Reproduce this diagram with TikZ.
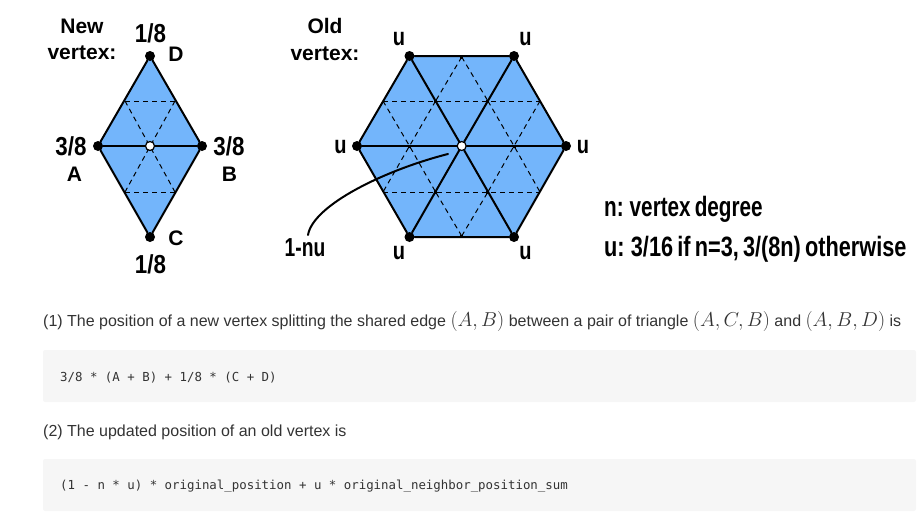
\documentclass[tikz,border=0pt]{standalone}
\usepackage{fontspec}
\setmainfont{Liberation Sans}
\newfontfamily\headfont{Liberation Sans Bold}
\newfontfamily\condfont[FakeStretch=0.86]{Liberation Sans Bold}
\newfontfamily\ufont[FakeStretch=0.8]{Liberation Sans Bold}
\newfontfamily\notefont[FakeStretch=0.74]{Liberation Sans Bold}
\newfontfamily\noteafont[FakeStretch=0.74,WordSpace=0.7]{Liberation Sans Bold}
\newfontfamily\notebfont[FakeStretch=0.775,WordSpace=0.7]{Liberation Sans Bold}
\newfontfamily\codefont{DejaVu Sans Mono}
\definecolor{meshblue}{HTML}{73B5FB}
\definecolor{codebg}{HTML}{F6F6F6}
\definecolor{bodytext}{HTML}{333333}
\tikzset{
  vtx/.style={circle,fill=black,inner sep=0pt,minimum size=10pt},
  newvtx/.style={circle,draw=black,line width=1.2pt,fill=white,inner sep=0pt,minimum size=9pt},
  edgeline/.style={line width=2pt,line cap=round},
  guide/.style={line width=1pt,dash pattern=on 5pt off 4pt},
  tick/.style={fill=black,inner sep=0pt,minimum size=3pt,rectangle},
  meshfill/.style={fill=meshblue,draw=none},
  head/.style={font=\headfont\fontsize{21}{26.5}\selectfont,align=center,inner sep=0pt},
  cond/.style={font=\condfont\fontsize{26}{30}\selectfont,inner sep=0pt},
  small/.style={font=\headfont\fontsize{21}{25}\selectfont,inner sep=0pt},
  ulabel/.style={font=\ufont\fontsize{25}{28}\selectfont,inner sep=0pt},
  nulabel/.style={font=\notefont\fontsize{26}{30}\selectfont,inner sep=0pt},
  notea/.style={font=\noteafont\fontsize{28}{32}\selectfont,anchor=base west,inner sep=0pt},
  noteb/.style={font=\notebfont\fontsize{28}{32}\selectfont,anchor=base west,inner sep=0pt},
  body/.style={font=\fontsize{16}{20}\selectfont,text=bodytext,anchor=base west,inner sep=0pt},
  codetxt/.style={font=\codefont\fontsize{12.4}{15}\selectfont,text=bodytext,anchor=base west,inner sep=0pt},
  codebox/.style={fill=codebg,draw=none,rounded corners=2pt},
}
\newcommand{\mymath}[1]{\scalebox{0.97}{\fontsize{20}{22}\selectfont$#1$}}
\begin{document}
\begin{tikzpicture}[x=1pt,y=-1pt]
\useasboundingbox (0,0) rectangle (919,525);

% ---- diamond
\coordinate (dqa) at (125,101);
\coordinate (dqb) at (175,101);
\coordinate (dqc) at (125,192);
\coordinate (dqd) at (175,192);
\path[meshfill] (98,146) -- (150,56) -- (202,146) -- (150,237) -- cycle;
\draw[guide] (dqa) -- (dqb);
\draw[guide] (dqc) -- (dqd);
\draw[guide] (dqa) -- (dqd);
\draw[guide] (dqb) -- (dqc);
\node[vtx] (A) at (98,146) {};
\node[vtx] (B) at (202,146) {};
\node[vtx] (D) at (150,56) {};
\node[vtx] (C) at (150,237) {};
\node[newvtx] (M) at (150,146) {};
\draw[edgeline] (A) -- (D) -- (B) -- (C) -- (A);
\draw[edgeline] (A) -- (M) -- (B);

\node[head] (newlbl) at (82,39.5) {New\\vertex:};
\node[cond] (t18) at (150.5,33) {1/8};
\node[small] (tD) at (176,54) {D};
\node[cond] (t38a) at (71,146) {3/8};
\node[small] (tA) at (74.5,174) {A};
\node[cond] (t38b) at (229,146) {3/8};
\node[small] (tB) at (229.5,174) {B};
\node[small] (tC) at (176,238) {C};
\node[cond] (b18) at (150.5,264) {1/8};

% ---- hexagon
\path[meshfill] (357,146) -- (409.5,56) -- (514,56) -- (566,146) -- (514,237) -- (409.5,237) -- cycle;
\coordinate (g1) at (383,101);
\coordinate (g2) at (540,101);
\coordinate (g3) at (383,192);
\coordinate (g4) at (540,192);
\coordinate (g5) at (461.7,57);
\coordinate (g6) at (461.7,236);
\coordinate (g7) at (435.6,101);
\coordinate (g8) at (487.9,101);
\coordinate (g9) at (435.6,192);
\coordinate (g10) at (487.9,192);
\coordinate (g11) at (409.5,146);
\coordinate (g12) at (514,146);
\draw[guide] (g1) -- (g2);
\draw[guide] (g3) -- (g4);
\draw[guide] (g5) -- (g7);
\draw[guide] (g5) -- (g8);
\draw[guide] (g6) -- (g9);
\draw[guide] (g6) -- (g10);
\draw[guide] (g1) -- (g11) -- (g9);
\draw[guide] (g7) -- (g11) -- (g3);
\draw[guide] (g8) -- (g12) -- (g4);
\draw[guide] (g2) -- (g12) -- (g10);
\foreach \p in {g5,g6,g7,g8,g9,g10,g11,g12} \node[tick] at (\p) {};
\node[vtx] (H1) at (357,146) {};
\node[vtx] (H2) at (409.5,56) {};
\node[vtx] (H3) at (514,56) {};
\node[vtx] (H4) at (566,146) {};
\node[vtx] (H5) at (514,237) {};
\node[vtx] (H6) at (409.5,237) {};
\node[newvtx] (O) at (461.7,146) {};
\draw[edgeline] (H1) -- (H2) -- (H3) -- (H4) -- (H5) -- (H6) -- (H1);
\foreach \v in {H1,H2,H3,H4,H5,H6} \draw[edgeline] (\v) -- (O);

\coordinate (curvestart) at (448,154);
\coordinate (curveend) at (308,235);
\draw[line width=2pt,line cap=round] (curvestart) .. controls (385,170) and (313,205) .. (curveend);

\node[head] (oldlbl) at (325,39.5) {Old\\vertex:};
\node[ulabel] (u1) at (399,39) {u};
\node[ulabel] (u2) at (525.5,39) {u};
\node[ulabel] (u3) at (340.5,147) {u};
\node[ulabel] (u4) at (583,147) {u};
\node[ulabel] (u5) at (399,253) {u};
\node[ulabel] (u6) at (525.5,253) {u};
\node[nulabel] (onenu) at (305,248) {1-nu};

% ---- notes
\node[notea] (n1) at (604,216) {n: vertex degree};
\node[noteb] (n2) at (604,256) {u: 3/16 if n=3, 3/(8n) otherwise};

% ---- text
\node[body] (p1) at (43,326) {(1) The position of a new vertex splitting the shared edge \mymath{(A,B)} between a pair of triangle \mymath{(A,C,B)} and \mymath{(A,B,D)} is};
\path[codebox] (43,350) rectangle (916,402);
\node[codetxt] (c1) at (60,381) {3/8 * (A + B) + 1/8 * (C + D)};
\node[body] (p2) at (43,436) {(2) The updated position of an old vertex is};
\path[codebox] (43,459) rectangle (916,511);
\node[codetxt] (c2) at (60,489) {(1 - n * u) * original\_position + u * original\_neighbor\_position\_sum};
\end{tikzpicture}
\end{document}
